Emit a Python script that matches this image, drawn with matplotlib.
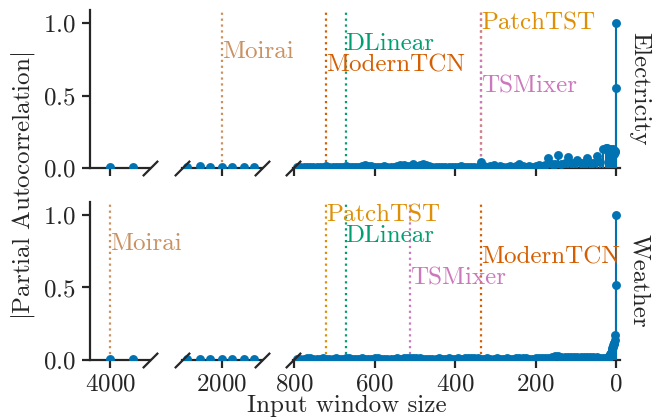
import matplotlib
matplotlib.use("Agg")
import matplotlib.pyplot as plt

plt.rcParams["font.family"] = "cmr10"
plt.rcParams["mathtext.fontset"] = "cm"
plt.rcParams["axes.formatter.use_mathtext"] = True
plt.rcParams["font.size"] = 9
plt.rcParams["axes.unicode_minus"] = False

BLUE = "#0173B2"
INK = "#262626"

# model colours (seaborn colorblind)
model_colors = {
    "PatchTST": "#DE8F05",
    "DLinear": "#029E73",
    "ModernTCN": "#D55E00",
    "TSMixer": "#CC78BC",
    "Moirai": "#CA9161",
}
label_y = {"PatchTST": 1.0, "DLinear": 0.855, "ModernTCN": 0.71,
           "TSMixer": 0.56, "Moirai": 0.8}

datasets = ["Electricity", "Weather"]

# input window used by each model
windows = {
    "Electricity": {"Moirai": 2000, "ModernTCN": 720, "DLinear": 672,
                    "PatchTST": 336, "TSMixer": 336},
    "Weather": {"Moirai": 4000, "PatchTST": 720, "DLinear": 672,
                "TSMixer": 512, "ModernTCN": 336},
}

# lags shown in the two far panels
far_lags = [4000, 3943]
mid_lags = [2087, 2056, 2029, 2000, 1974, 1945, 1919]
# short lags 0..23, then every 8th lag up to 792
near_lags = list(range(0, 24))
step_lags = list(range(24, 793, 8))

pacf_far = {
    "Electricity": [0.005, 0.005],
    "Weather": [0.005, 0.005],
}
pacf_mid = {
    "Electricity": [0.005, 0.017, 0.005, 0.005, 0.005, 0.005, 0.007],
    "Weather": [0.005, 0.006, 0.005, 0.005, 0.005, 0.005, 0.005],
}
pacf_near = {
    "Electricity": [1.0, 0.55, 0.12, 0.11, 0.10, 0.12, 0.11, 0.12, 0.13, 0.12,
                    0.11, 0.12, 0.13, 0.12, 0.11, 0.12, 0.12, 0.11, 0.12, 0.13,
                    0.12, 0.13, 0.13, 0.14],
    "Weather": [1.0, 0.52, 0.17, 0.14, 0.12, 0.12, 0.11, 0.10, 0.09, 0.08,
                0.07, 0.06, 0.05, 0.045, 0.04, 0.035, 0.03, 0.025, 0.02, 0.018,
                0.015, 0.014, 0.013, 0.012],
}
pacf_step = {
    "Electricity": [
        0.14, 0.13, 0.04, 0.08, 0.038, 0.035, 0.07, 0.035, 0.035, 0.055,
        0.035, 0.032, 0.078, 0.035, 0.03, 0.09, 0.03, 0.028, 0.072, 0.02,
        0.015, 0.022, 0.012, 0.01, 0.014, 0.01, 0.012, 0.025, 0.012, 0.01,
        0.015, 0.01, 0.008, 0.014, 0.01, 0.02, 0.012, 0.01, 0.012, 0.04,
        0.01, 0.008, 0.01, 0.008, 0.01, 0.012, 0.01, 0.008, 0.009, 0.01,
        0.008, 0.01, 0.008, 0.009, 0.01, 0.012, 0.018, 0.028, 0.022, 0.015,
        0.026, 0.014, 0.012, 0.022, 0.02, 0.012, 0.01, 0.009, 0.008, 0.012,
        0.01, 0.009, 0.008, 0.012, 0.015, 0.018, 0.012, 0.01, 0.008, 0.009,
        0.01, 0.012, 0.008, 0.009, 0.008, 0.01, 0.009, 0.012, 0.008, 0.009,
        0.01, 0.008, 0.009, 0.008, 0.01, 0.008, 0.009],
    "Weather": [
        0.012, 0.013, 0.015, 0.018, 0.02, 0.018, 0.02, 0.018, 0.02, 0.018,
        0.02, 0.019, 0.018, 0.02, 0.022, 0.026, 0.024, 0.018, 0.015, 0.012,
        0.01, 0.01, 0.012, 0.009, 0.008, 0.01, 0.012, 0.014, 0.01, 0.008,
        0.008, 0.012, 0.009, 0.008, 0.01, 0.008, 0.008, 0.01, 0.009, 0.008,
        0.012, 0.014, 0.016, 0.012, 0.01, 0.008, 0.01, 0.008, 0.009, 0.01,
        0.008, 0.008, 0.01, 0.009, 0.008, 0.009, 0.008, 0.008, 0.01, 0.011,
        0.012, 0.014, 0.013, 0.01, 0.008, 0.01, 0.009, 0.008, 0.009, 0.009,
        0.008, 0.01, 0.01, 0.008, 0.009, 0.009, 0.01, 0.008, 0.008, 0.009,
        0.01, 0.01, 0.008, 0.009, 0.01, 0.008, 0.009, 0.009, 0.01, 0.008,
        0.008, 0.009, 0.01, 0.01, 0.008, 0.009, 0.009],
}

xlims = [(4050, 3900), (2100, 1900), (802.5, -9.9)]
xticks = [[4000], [2000], [800, 600, 400, 200, 0]]
col_left = [0.1362, 0.2753, 0.4433]
col_width = [0.0908, 0.1210, 0.4947]
row_bottom = [0.599, 0.141]
row_height = 0.377

fig = plt.figure(figsize=(3.305, 2.095), dpi=200)

brk = dict(marker=[(-1, -1), (1, 1)], markersize=5.5, linestyle="none",
           color=INK, mec=INK, mew=0.8, clip_on=False, zorder=5)

for r, name in enumerate(datasets):
    series = [
        (far_lags, pacf_far[name]),
        (mid_lags, pacf_mid[name]),
        (near_lags + step_lags, pacf_near[name] + pacf_step[name]),
    ]
    for c in range(3):
        ax = fig.add_axes([col_left[c], row_bottom[r], col_width[c], row_height])
        lags, vals = series[c]
        ml, sl, bl = ax.stem(lags, vals, basefmt=" ")
        ml.set_color(BLUE)
        ml.set_markersize(2.2)
        ml.set_zorder(3)
        sl.set_color(BLUE)
        sl.set_linewidth(0.75)
        sl.set_zorder(3)

        ax.set_xlim(*xlims[c])
        ax.set_ylim(0, 1.09)
        ax.set_xticks(xticks[c])
        if r == 0:
            ax.set_xticklabels([])

        for side in ["top", "right"]:
            ax.spines[side].set_visible(False)
        for side in ["left", "bottom"]:
            ax.spines[side].set_color(INK)
            ax.spines[side].set_linewidth(0.8)
        ax.tick_params(direction="out", length=3, width=0.8, color=INK,
                       labelcolor=INK, pad=2)
        if c == 0:
            ax.set_yticks([0.0, 0.5, 1.0])
        else:
            ax.spines["left"].set_visible(False)
            ax.set_yticks([])

        # break marks on the x axis
        if c < 2:
            ax.plot([1], [0], transform=ax.transAxes, **brk)
        if c > 0:
            ax.plot([0], [0], transform=ax.transAxes, **brk)

        lo, hi = sorted(xlims[c])
        for model, w in windows[name].items():
            if lo <= w <= hi:
                col = model_colors[model]
                ax.axvline(w, color=col, linestyle=":", linewidth=0.8, zorder=1)
                ax.text(w, label_y[model], model, color=col, ha="left",
                        va="center", fontsize=9, zorder=4)

        if c == 2:
            ax.text(1.025, 0.5, name, transform=ax.transAxes, rotation=270,
                    ha="left", va="center", color=INK, fontsize=9)

fig.text(0.035, 0.555, r"$|$Partial Autocorrelation$|$", rotation=90,
         ha="center", va="center", color=INK, fontsize=9)
fig.text(0.524, 0.03, "Input window size", ha="center", va="center",
         color=INK, fontsize=9)

fig.savefig("out.png", dpi=200)
